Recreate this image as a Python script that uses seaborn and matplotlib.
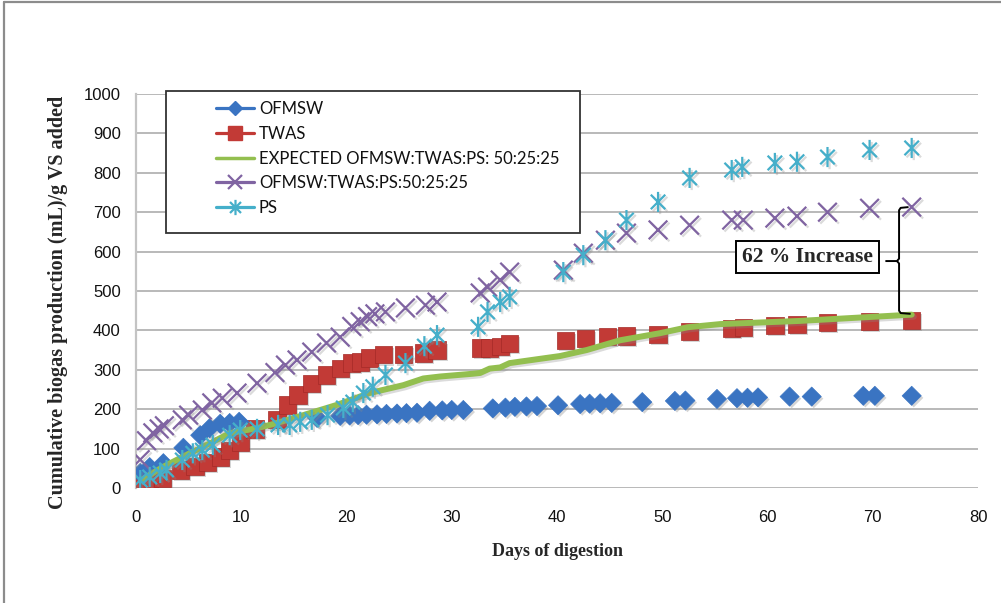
import numpy as np
import pandas as pd
import matplotlib
matplotlib.use("Agg")
import matplotlib.pyplot as plt
import seaborn as sns
from matplotlib.lines import Line2D
from matplotlib.patches import Rectangle
from matplotlib.path import Path
import matplotlib.patheffects as pe

# ---------------- data ----------------
ofmsw_days = [0.4, 1.3, 2.6, 4.5, 6.1, 7.0, 8.0, 8.9, 9.8, 17.2, 19.4, 20.3, 21.1, 21.9, 22.9,
              23.8, 24.8, 25.7, 26.7, 27.9, 29.1, 30.0, 31.1, 33.9, 35.1, 36.0, 37.1, 38.1,
              40.1, 42.2, 43.1, 44.1, 45.2, 48.1, 51.2, 52.2, 55.2, 57.1, 58.1, 59.1, 62.1,
              64.2, 69.1, 70.2, 73.7]
ofmsw_vals = [38, 53, 63, 102, 134, 152, 163, 165, 168, 178, 183, 184, 185, 186, 187,
              188, 189, 190, 191, 196, 197, 198, 198, 202, 204, 206, 207, 208,
              210, 213, 214, 215, 216, 218, 221, 222, 226, 228, 229, 230, 232,
              232, 234, 234, 234]

twas_days = [0.2, 1.3, 2.5, 4.2, 5.6, 6.8, 8.0, 8.9, 9.9, 11.3, 13.4, 14.4, 15.4, 16.7, 18.1,
             19.4, 20.5, 21.3, 22.2, 23.5, 25.4, 27.3, 28.6, 32.7, 33.6, 34.6, 35.5, 40.8,
             42.7, 44.8, 46.6, 49.6, 52.6, 56.6, 57.7, 60.7, 62.8, 65.7, 69.7, 73.7]
twas_vals = [12, 16, 24, 46, 54, 65, 79, 96, 117, 150, 173, 211, 236, 266, 287,
             304, 317, 320, 330, 338, 338, 343, 350, 355, 355, 360, 367, 375,
             380, 384, 386, 390, 397, 405, 408, 413, 415, 420, 422, 425]

expected_days = [0.5, 2.6, 5.1, 7.3, 8.9, 11.5, 13.0, 15.9, 19.1, 22.2, 25.4, 27.3, 28.9, 32.0,
                 32.7, 33.6, 34.6, 35.5, 40.3, 42.8, 46.0, 49.8, 52.4, 55.5, 63.0, 73.7]
expected_vals = [20, 54, 88, 117, 139, 152, 162, 185, 211, 241, 261, 278, 283, 290,
                 292, 303, 306, 317, 335, 350, 375, 393, 408, 416, 424, 440]

mix_days = [0.4, 1.0, 1.6, 2.2, 2.7, 4.4, 5.0, 6.3, 7.2, 8.2, 9.6, 11.5, 13.2, 14.2, 15.3,
            16.7, 18.1, 19.4, 20.5, 21.3, 22.0, 22.7, 23.7, 25.6, 27.5, 28.6, 32.7, 33.4,
            34.6, 35.5, 40.6, 42.5, 44.6, 46.6, 49.6, 52.6, 56.6, 57.7, 60.7, 62.8, 65.7,
            69.7, 73.7]
mix_vals = [72, 120, 140, 150, 158, 173, 185, 198, 216, 228, 241, 266, 293, 312, 325,
            345, 368, 383, 410, 422, 435, 442, 447, 457, 464, 472, 495, 510,
            528, 548, 553, 596, 629, 647, 655, 667, 680, 680, 685, 690, 700,
            710, 713]

ps_days = [0.4, 1.3, 2.3, 2.9, 4.4, 5.4, 6.3, 7.3, 8.9, 9.9, 11.5, 13.5, 14.6, 15.6, 16.7,
           18.2, 19.7, 20.6, 21.6, 22.5, 23.7, 25.6, 27.4, 28.6, 32.5, 33.4, 34.6, 35.5,
           40.6, 42.5, 44.6, 46.6, 49.6, 52.6, 56.6, 57.6, 60.7, 62.8, 65.7, 69.7, 73.7]
ps_vals = [20, 28, 38, 46, 71, 88, 96, 109, 134, 147, 150, 160, 160, 168, 173,
           185, 203, 218, 241, 257, 287, 317, 360, 388, 409, 447, 472, 485,
           548, 591, 629, 680, 726, 787, 807, 815, 825, 828, 840, 858, 863]

labels = ["OFMSW", "TWAS", "EXPECTED OFMSW:TWAS:PS: 50:25:25", "OFMSW:TWAS:PS:50:25:25", "PS"]
x_ticks = [0, 10, 20, 30, 40, 50, 60, 70, 80]
y_ticks = [0, 100, 200, 300, 400, 500, 600, 700, 800, 900, 1000]

C_BLUE = "#3a74c2"
C_RED = "#c23a36"
C_GREEN = "#93bf4f"
C_PURPLE = "#8064a2"
C_CYAN = "#45afca"

# ---------------- style ----------------
sns.set_theme(style="white")
plt.rcParams["font.family"] = ["Liberation Sans", "DejaVu Sans"]

W, H = 1001, 603
fig = plt.figure(figsize=(W / 100, H / 100), dpi=100)
ax = fig.add_axes([136 / W, 1 - 488 / H, 842 / W, 394 / H])

star_path = Path([(0, -1), (0, 1), (-0.72, -0.72), (0.72, 0.72), (-0.72, 0.72), (0.72, -0.72)],
                 [Path.MOVETO, Path.LINETO, Path.MOVETO, Path.LINETO, Path.MOVETO, Path.LINETO])

shadow = [pe.SimplePatchShadow(offset=(1.5, -1.5), shadow_rgbFace="#888888", alpha=0.35), pe.Normal()]
line_shadow = [pe.SimpleLineShadow(offset=(1.5, -1.5), shadow_color="#888888", alpha=0.3), pe.Normal()]

df_ofmsw = pd.DataFrame({"day": ofmsw_days, "val": ofmsw_vals})
df_twas = pd.DataFrame({"day": twas_days, "val": twas_vals})
df_exp = pd.DataFrame({"day": expected_days, "val": expected_vals})
df_mix = pd.DataFrame({"day": mix_days, "val": mix_vals})
df_ps = pd.DataFrame({"day": ps_days, "val": ps_vals})

sns.lineplot(data=df_exp, x="day", y="val", color=C_GREEN, lw=4.3, ax=ax, zorder=4,
             path_effects=line_shadow)
sns.scatterplot(data=df_twas, x="day", y="val", marker="s", s=155, color=C_RED,
                edgecolor="#a52a27", linewidth=0.5, ax=ax, zorder=3)
ax.collections[-1].set_path_effects(shadow)
sns.scatterplot(data=df_ofmsw, x="day", y="val", marker="D", s=95, color=C_BLUE,
                edgecolor=C_BLUE, linewidth=0.5, ax=ax, zorder=3)
ax.collections[-1].set_path_effects(shadow)
sns.scatterplot(data=df_mix, x="day", y="val", marker="x", s=180, color=C_PURPLE,
                linewidth=1.6, ax=ax, zorder=5)
ax.collections[-1].set_path_effects(line_shadow)
sns.scatterplot(data=df_ps, x="day", y="val", marker=star_path, s=210, color=C_CYAN,
                facecolor="none", edgecolor=C_CYAN, linewidth=1.6, ax=ax, zorder=5)
ax.collections[-1].set_path_effects(line_shadow)

# ---------------- axes ----------------
ax.set_xlim(0, 80)
ax.set_ylim(0, 1000)
ax.set_xticks(x_ticks)
ax.set_yticks(y_ticks)
ax.set_xticklabels([str(t) for t in x_ticks])
ax.set_yticklabels([str(t) for t in y_ticks])
ax.yaxis.grid(True, color="#a6a6a6", lw=1.1)
ax.xaxis.grid(False)
ax.set_axisbelow(True)
for s in ["top", "right", "bottom"]:
    ax.spines[s].set_visible(False)
ax.spines["left"].set_color("#c4c4c4")
ax.spines["left"].set_linewidth(1.6)
ax.tick_params(axis="both", length=0, labelsize=12, colors="#111111")
ax.tick_params(axis="y", pad=11)
ax.tick_params(axis="x", pad=16)

ax.set_xlabel("Days of digestion", family=["Liberation Serif"], fontweight="bold", fontsize=13)
ax.set_ylabel("Cumulative biogas production (mL)/g VS added", family=["Liberation Serif"],
              fontweight="bold", fontsize=14.5)
ax.xaxis.set_label_coords(0.5, (488 - 552) / 394)
ax.xaxis.label.set_verticalalignment("center")
ax.yaxis.set_label_coords((58 - 136) / 842, (488 - 302) / 394)
ax.yaxis.label.set_verticalalignment("center")

# ---------------- legend ----------------
box = Rectangle((166 / W, 1 - 233 / H), (580 - 166) / W, (233 - 91) / H, transform=fig.transFigure,
                facecolor="white", edgecolor="#333333", lw=1.3, zorder=6, clip_on=False)
ax.add_patch(box)
handles = [
    Line2D([], [], color=C_BLUE, lw=2.3, marker="D", markersize=7.5, markeredgecolor=C_BLUE),
    Line2D([], [], color=C_RED, lw=2.3, marker="s", markersize=10, markeredgecolor=C_RED),
    Line2D([], [], color=C_GREEN, lw=2.5),
    Line2D([], [], color=C_PURPLE, lw=2.3, marker="x", markersize=10, markeredgewidth=1.6),
    Line2D([], [], color=C_CYAN, lw=2.3, marker=star_path, markersize=11, markeredgewidth=1.6,
           markerfacecolor="none"),
]
leg = ax.legend(handles, labels, loc="upper left", bbox_to_anchor=(208 / W, 1 - 93 / H),
                bbox_transform=fig.transFigure, frameon=False, borderpad=0, handlelength=2.25,
                handletextpad=0.3, labelspacing=0.52, prop={"family": "Lato", "size": 12})
leg.set_zorder(7)
for t in leg.get_texts():
    t.set_color("#111111")

# ---------------- annotation ----------------
ax.text(((732 + 883) / 2 - 136) / 10.525, (488 - 257) / 0.394, "62 % Increase",
        ha="center", va="center", family=["Liberation Serif"], fontweight="bold", fontsize=15.5,
        bbox=dict(boxstyle="square,pad=0.28", facecolor="white", edgecolor="black", lw=1.4),
        zorder=8)
bx = 72.5
ax.plot([73.4, bx + 0.15, bx, bx, bx - 0.2, 71.2], [713, 711, 705, 582, 576, 576],
        color="black", lw=1.4, zorder=8, solid_capstyle="butt")
ax.plot([bx - 0.2, bx, bx, bx + 0.15, 73.6], [576, 570, 450, 444, 442],
        color="black", lw=1.4, zorder=8, solid_capstyle="butt")

# outer chart-area border (left and top edges)
fig.add_artist(Line2D([4 / W, 4 / W], [0, 1 - 2 / H], transform=fig.transFigure, color="#8c8c8c", lw=1.6))
fig.add_artist(Line2D([4 / W, 1], [1 - 2 / H, 1 - 2 / H], transform=fig.transFigure, color="#8c8c8c", lw=1.6))

fig.savefig("out.png", dpi=100)
